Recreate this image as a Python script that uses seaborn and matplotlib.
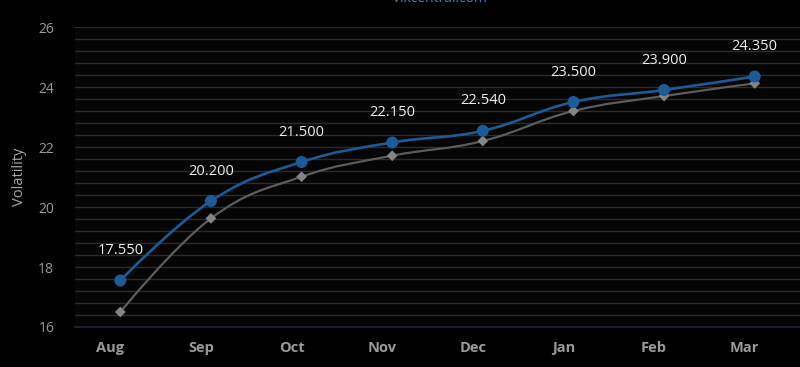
import numpy as np
import pandas as pd
import matplotlib
matplotlib.use("Agg")
import matplotlib.pyplot as plt
from matplotlib.path import Path
from matplotlib.patches import PathPatch
from matplotlib.transforms import ScaledTranslation
import seaborn as sns

months = ["Aug", "Sep", "Oct", "Nov", "Dec", "Jan", "Feb", "Mar"]
futures = [17.55, 20.20, 21.50, 22.15, 22.54, 23.50, 23.90, 24.35]
previous = [16.50, 19.62, 21.01, 21.71, 22.20, 23.20, 23.70, 24.12]
y_ticks = [16, 18, 20, 22, 24, 26]

BLUE = "#1d5a98"
GREY_LINE = "#5c5c5c"
GREY_MARK = "#858585"


def spline_path(xs, ys, smoothing=1.5):
    # highcharts-style spline: cubic bezier with control points per point
    n = len(xs)
    denom = smoothing + 1
    left = [(x, y) for x, y in zip(xs, ys)]
    right = [(x, y) for x, y in zip(xs, ys)]
    for i in range(1, n - 1):
        px, py = xs[i], ys[i]
        lx, ly = xs[i - 1], ys[i - 1]
        nx, ny = xs[i + 1], ys[i + 1]
        lcx = (smoothing * px + lx) / denom
        lcy = (smoothing * py + ly) / denom
        rcx = (smoothing * px + nx) / denom
        rcy = (smoothing * py + ny) / denom
        if rcx != lcx:
            corr = (rcy - lcy) * (rcx - px) / (rcx - lcx) + py - rcy
            lcy += corr
            rcy += corr
        if lcy > max(ly, py):
            lcy = max(ly, py)
            rcy = 2 * py - lcy
        elif lcy < min(ly, py):
            lcy = min(ly, py)
            rcy = 2 * py - lcy
        if rcy > max(ny, py):
            rcy = max(ny, py)
            lcy = 2 * py - rcy
        elif rcy < min(ny, py):
            rcy = min(ny, py)
            lcy = 2 * py - rcy
        left[i] = (lcx, lcy)
        right[i] = (rcx, rcy)
    verts = [(xs[0], ys[0])]
    codes = [Path.MOVETO]
    for i in range(1, n):
        verts += [right[i - 1], left[i], (xs[i], ys[i])]
        codes += [Path.CURVE4] * 3
    return Path(verts, codes)


df = pd.DataFrame({
    "month": months * 2,
    "pos": list(range(len(months))) * 2,
    "value": futures + previous,
    "series": ["current"] * len(months) + ["previous"] * len(months),
})

sns.set_theme(style="dark")
plt.rcParams["font.family"] = ["Open Sans", "DejaVu Sans"]

fig = plt.figure(figsize=(8, 3.67), dpi=100, facecolor="black")
ax = fig.add_axes([75 / 800, 40 / 367, 725 / 800, 300 / 367])
ax.set_facecolor("#050505")

x = np.arange(len(months))
ax.add_patch(PathPatch(spline_path(list(x), previous), facecolor="none",
                       edgecolor=GREY_LINE, lw=1.6, zorder=3))
ax.add_patch(PathPatch(spline_path(list(x), futures), facecolor="none",
                       edgecolor=BLUE, lw=1.9, zorder=4))

sns.scatterplot(data=df[df.series == "previous"], x="pos", y="value", ax=ax,
                marker="D", s=30, color=GREY_MARK, edgecolor="none", zorder=5, legend=False)
sns.scatterplot(data=df[df.series == "current"], x="pos", y="value", ax=ax,
                marker="o", s=75, color=BLUE, edgecolor="none", zorder=6, legend=False)

for xi, v in zip(x, futures):
    ax.annotate(f"{v:.3f}", (xi, v), xytext=(0, 21.5), textcoords="offset points",
                ha="center", va="center", color="#eeeeee", fontsize=10.5, zorder=7)

ax.set_xlim(-0.5, len(months) - 0.5)
ax.set_ylim(16, 26)
ax.set_yticks(y_ticks)
ax.set_yticks(np.arange(16, 26.01, 0.4), minor=True)
ax.set_xticks(x)
ax.set_xticklabels(months, fontweight="bold")
ax.grid(True, which="both", axis="y", color="#2b2b2b", lw=1)
ax.grid(False, axis="x")
ax.tick_params(axis="y", which="both", length=0, pad=15, labelcolor="#9a9a9a", labelsize=10)
ax.tick_params(axis="x", length=0, pad=10, labelcolor="#9a9a9a", labelsize=10.5)
for side in ["top", "right", "left"]:
    ax.spines[side].set_visible(False)
ax.spines["bottom"].set_color("#1c2536")
ax.spines["bottom"].set_zorder(2)
ax.set_xlabel("")
ax.set_ylabel("Volatility", color="#a8a8a8", fontsize=10.5, labelpad=8)

# category labels sit a little left of the points in the original
shift = ScaledTranslation(-10 / 100, 0, fig.dpi_scale_trans)
for lbl in ax.xaxis.get_majorticklabels():
    lbl.set_transform(lbl.get_transform() + shift)

fig.text(440 / 800, 1 - 2 / 367, "vixcentral.com", ha="center", va="baseline",
         color="#4a7bbd", fontsize=10)

fig.savefig("out.png", dpi=100, facecolor="black")
